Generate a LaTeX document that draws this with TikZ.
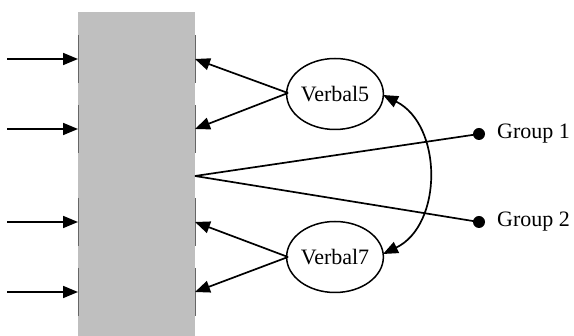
\documentclass[tikz,border=0pt]{standalone}
\usepackage{fontspec}
\setmainfont{Liberation Serif}
\usetikzlibrary{arrows.meta,shapes.geometric}
\begin{document}
\begin{tikzpicture}[x=1pt,y=-1pt,
  tip/.tip={Triangle[length=15pt,width=12pt]},
  conn/.style={line width=1.7pt,-tip},
  plain/.style={line width=1.7pt},
  ell/.style={draw,line width=1.5pt,ellipse,minimum width=96pt,minimum height=71pt,inner sep=0pt,font=\fontsize{22}{24}\selectfont},
  tick/.style={draw=black!60,line width=1pt},
  lbl/.style={anchor=west,inner sep=0pt,font=\fontsize{22}{24}\selectfont},
  dotn/.style={circle,fill=black,minimum size=12pt,inner sep=0pt}]
\useasboundingbox (0,0) rectangle (574,336);
\fill[black!25] (78,12) rectangle (195,340);
% ticks
\foreach \a/\b in {35/83,105/153,198/246,268/316}{
  \draw[tick] (78,\a) -- (78,\b);
  \draw[tick] (195,\a) -- (195,\b);
}
% left inputs
\foreach \y/\n in {59/1,129/2,222/3,292/4}{
  \coordinate (ls\n) at (7,\y);
  \coordinate (le\n) at (78,\y);
  \coordinate (r\n) at (195,\y);
  \draw[conn] (ls\n) -- (le\n);
}
\node[ell] (v5) at (335,94) {Verbal5};
\node[ell] (v7) at (335,257) {Verbal7};
\coordinate (v5l) at (288,93);
\coordinate (v7l) at (288,257);
\draw[conn] (v5l) -- (r1);
\draw[conn] (v5l) -- (r2);
\draw[conn] (v7l) -- (r3);
\draw[conn] (v7l) -- (r4);
\coordinate (c) at (195,176);
\node[dotn] (g1) at (479,134) {};
\node[dotn] (g2) at (479,222) {};
\node[lbl] (t1) at (497,134) {Group 1};
\node[lbl] (t2) at (497,222) {Group 2};
\draw[plain] (c) -- (g1.center);
\draw[plain] (c) -- (g2.center);
\coordinate (a1) at (383,95);
\coordinate (a2) at (383,254);
\draw[line width=1.7pt,tip-tip] (a1) .. controls (443,125) and (443,225) .. (a2);
\end{tikzpicture}
\end{document}
